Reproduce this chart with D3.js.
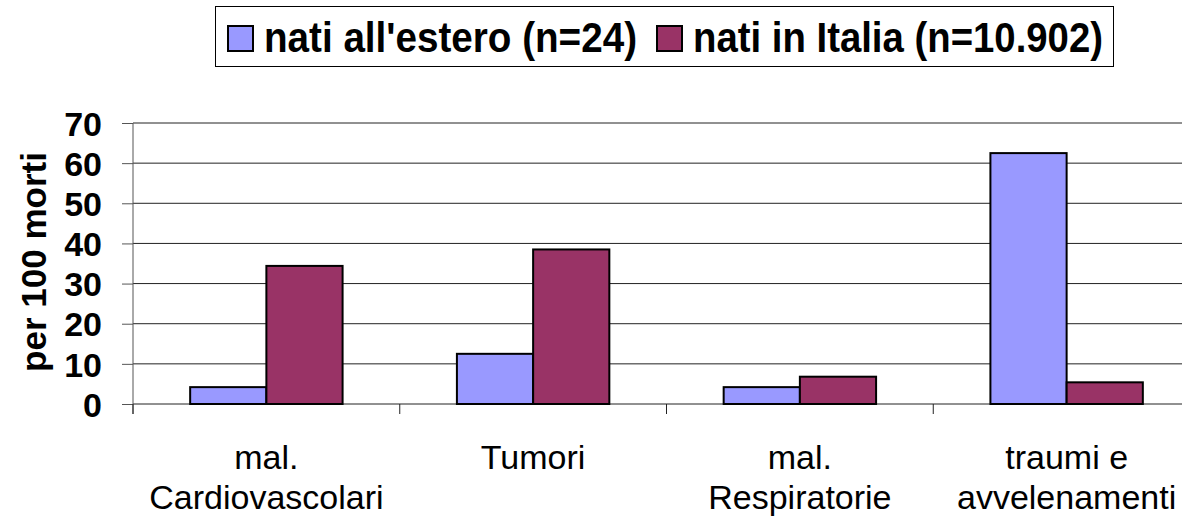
<!DOCTYPE html>
<html>
<head>
<meta charset="utf-8">
<script src="https://cdn.jsdelivr.net/npm/d3@7"></script>
<style>
  body { margin: 0; background: #fff; }
  svg { display: block; font-family: "Liberation Sans", Arial, sans-serif; }
</style>
</head>
<body>
<svg id="chart"></svg>
<script>
// data
const categories = [["mal.", "Cardiovascolari"], ["Tumori"], ["mal.", "Respiratorie"], ["traumi e", "avvelenamenti"]];
const seriesNames = ["nati all'estero (n=24)", "nati in Italia (n=10.902)"];
const esteroValues = [4.2, 12.5, 4.2, 62.5];
const italiaValues = [34.4, 38.5, 6.8, 5.4];
const yTicks = [0, 10, 20, 30, 40, 50, 60, 70];
const colors = ["#9999FF", "#993366"];

const W = 1182, H = 517;
const margin = { top: 123, left: 133, bottom: 113 };
const plotW = 1200 - margin.left; // plot runs past the right edge
const plotH = H - margin.top - margin.bottom;

const svg = d3.select("#chart").attr("width", W).attr("height", H);
const g = svg.append("g").attr("transform", `translate(${margin.left},${margin.top})`);

const x = d3.scaleBand().domain(d3.range(categories.length)).range([0, plotW]);
const bw = x.bandwidth() / 3.5; // gap width 150%
const x1 = d3.scaleBand().domain([0, 1]).range([bw * 0.75, bw * 2.75]);
const y = d3.scaleLinear().domain([0, 70]).range([plotH, 0]);

// gridlines
g.selectAll(".grid").data(yTicks).join("line")
  .attr("x1", 0).attr("x2", plotW)
  .attr("y1", d => y(d)).attr("y2", d => y(d))
  .attr("stroke", "#222").attr("stroke-width", 1);

// y axis
const yAxis = g.append("g").call(d3.axisLeft(y).tickValues(yTicks).tickSize(11).tickPadding(20));
yAxis.select(".domain").attr("stroke", "#555").attr("d", `M0,0V${plotH + 10}`);
yAxis.selectAll(".tick line").attr("stroke", "#555");
yAxis.selectAll("text").attr("font-size", 34).attr("font-weight", "bold").attr("fill", "#000")
  .attr("font-family", "Liberation Sans, Arial, sans-serif").attr("dy", "0.36em");

// x axis boundary ticks
g.selectAll(".xtick").data(d3.range(categories.length)).join("line")
  .attr("x1", d => x(d)).attr("x2", d => x(d))
  .attr("y1", plotH).attr("y2", plotH + 10)
  .attr("stroke", "#222");

// bars
const series = [esteroValues, italiaValues];
series.forEach((vals, s) => {
  g.selectAll(".bar" + s).data(vals).join("rect")
    .attr("x", (d, i) => x(i) + x1(s))
    .attr("y", d => y(d))
    .attr("width", x1.bandwidth())
    .attr("height", d => plotH - y(d))
    .attr("fill", colors[s])
    .attr("stroke", "#000").attr("stroke-width", 2);
});

// category labels
const lbl = g.selectAll(".cat").data(categories).join("text")
  .attr("text-anchor", "middle")
  .attr("font-size", 34)
  .attr("transform", (d, i) => `translate(${x(i) + x.bandwidth() / 2},${plotH + 65})`);
lbl.selectAll("tspan").data(d => d).join("tspan")
  .attr("x", 0).attr("dy", (d, i) => i === 0 ? 0 : 40)
  .text(d => d);

// y label
svg.append("text")
  .attr("transform", `translate(46,262) rotate(-90)`)
  .attr("text-anchor", "middle")
  .attr("font-size", 35).attr("font-weight", "bold")
  .text("per 100 morti");

// legend
const leg = svg.append("g");
leg.append("rect").attr("x", 215.5).attr("y", 6.5).attr("width", 898).attr("height", 60)
  .attr("fill", "#fff").attr("stroke", "#000").attr("stroke-width", 1);
const legX = [228, 657];
const legLen = [373, 410];
seriesNames.forEach((name, i) => {
  leg.append("rect").attr("x", legX[i]).attr("y", 26).attr("width", 25).attr("height", 25)
    .attr("fill", colors[i]).attr("stroke", "#000").attr("stroke-width", 2);
  leg.append("text").attr("x", legX[i] + 36).attr("y", 52)
    .attr("font-size", 42).attr("font-weight", "bold")
    .attr("textLength", legLen[i]).attr("lengthAdjust", "spacingAndGlyphs")
    .text(name);
});
</script>
</body>
</html>
